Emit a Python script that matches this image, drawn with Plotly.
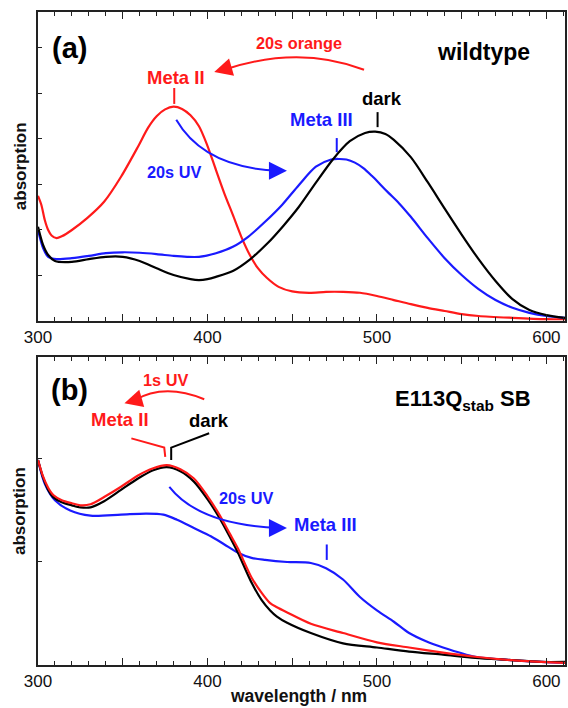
import plotly.graph_objects as go

# ---------------- data: panel (a) wildtype ----------------
wl_a_dark = [300, 303, 306, 310, 320, 330, 340, 350, 360, 370, 380, 390, 395, 400, 405, 415, 425, 435,
             445, 454, 464, 474, 484, 493, 499, 505, 510, 520, 530, 540, 550, 560, 570, 580, 590, 600, 611]
abs_a_dark = [0.207, 0.167, 0.145, 0.132, 0.130, 0.136, 0.141, 0.141, 0.132, 0.116, 0.101, 0.092, 0.090,
              0.092, 0.097, 0.110, 0.135, 0.169, 0.210, 0.251, 0.304, 0.355, 0.395, 0.413, 0.416, 0.411,
              0.398, 0.360, 0.305, 0.247, 0.190, 0.136, 0.088, 0.048, 0.024, 0.013, 0.007]

wl_a_meta3 = [300, 303, 306, 311, 320, 330, 340, 350, 360, 370, 380, 388, 395, 405, 415, 424, 434, 444,
              454, 464, 473, 478, 482, 487, 492, 497, 502, 507, 513, 520, 530, 540, 550, 560, 570, 580,
              590, 600, 611]
abs_a_meta3 = [0.200, 0.160, 0.141, 0.136, 0.138, 0.143, 0.149, 0.151, 0.150, 0.147, 0.143, 0.141, 0.141,
               0.149, 0.163, 0.185, 0.218, 0.255, 0.299, 0.339, 0.355, 0.356, 0.355, 0.348, 0.336, 0.319,
               0.300, 0.281, 0.259, 0.229, 0.182, 0.138, 0.101, 0.070, 0.046, 0.029, 0.018, 0.011, 0.007]

wl_a_meta2 = [300, 302, 304, 306, 308, 311, 314, 320, 329, 339, 349, 359, 365, 370, 375, 380, 385, 390,
              395, 400, 405, 410, 415, 420, 425, 430, 435, 442, 450, 460, 470, 480, 490, 500, 510, 520,
              530, 540, 550, 560, 580, 600, 611]
abs_a_meta2 = [0.275, 0.255, 0.222, 0.200, 0.188, 0.182, 0.186, 0.200, 0.226, 0.262, 0.317, 0.383, 0.425,
               0.450, 0.465, 0.471, 0.466, 0.452, 0.428, 0.385, 0.332, 0.280, 0.233, 0.185, 0.145, 0.115,
               0.095, 0.075, 0.065, 0.062, 0.064, 0.064, 0.062, 0.055, 0.046, 0.037, 0.029, 0.022, 0.015,
               0.011, 0.007, 0.004, 0.004]

# ---------------- data: panel (b) E113Q_stab SB ----------------
wl_b_dark = [300, 303, 306, 309, 314, 320, 325, 331, 339, 349, 359, 368, 376, 384, 392, 400, 407, 413,
             418, 426, 432, 437, 441, 447, 461, 480, 500, 519, 539, 558, 577, 597, 611]
abs_b_dark = [0.199, 0.182, 0.170, 0.163, 0.158, 0.155, 0.153, 0.153, 0.159, 0.170, 0.181, 0.189, 0.192,
              0.188, 0.178, 0.161, 0.143, 0.125, 0.109, 0.080, 0.063, 0.053, 0.047, 0.041, 0.031, 0.021,
              0.017, 0.013, 0.010, 0.007, 0.005, 0.003, 0.003]

wl_b_meta2 = [300, 303, 306, 309, 314, 320, 325, 331, 339, 349, 359, 368, 376, 384, 392, 400, 407, 413,
              418, 426, 432, 437, 441, 447, 461, 480, 500, 519, 539, 558, 577, 597, 611]
abs_b_meta2 = [0.199, 0.183, 0.172, 0.165, 0.160, 0.157, 0.155, 0.156, 0.163, 0.173, 0.184, 0.191, 0.194,
               0.190, 0.181, 0.164, 0.146, 0.128, 0.113, 0.085, 0.070, 0.060, 0.056, 0.051, 0.040, 0.031,
               0.022, 0.017, 0.012, 0.008, 0.005, 0.003, 0.002]

wl_b_meta3 = [300, 304, 310, 319, 331, 349, 364, 374, 382, 392, 402, 410, 418, 426, 434, 447, 461, 470,
              480, 490, 500, 510, 519, 529, 539, 558, 577, 597, 611]
abs_b_meta3 = [0.199, 0.176, 0.160, 0.150, 0.145, 0.146, 0.147, 0.146, 0.141, 0.133, 0.125, 0.117, 0.109,
               0.104, 0.102, 0.100, 0.099, 0.094, 0.083, 0.066, 0.053, 0.042, 0.031, 0.023, 0.017, 0.008,
               0.005, 0.003, 0.002]

x_tickvals = [300, 350, 400, 450, 500, 550, 600]
x_ticktext = ["300", "", "400", "", "500", "", "600"]
y_ticks_a = [0.1, 0.2, 0.3, 0.4, 0.5, 0.6]
y_ticks_b = [0.1, 0.2]

RED = "#ff1a1a"
BLUE = "#1a1aff"
BLACK = "#000000"
FONT = "Liberation Sans, Arial, sans-serif"

fig = go.Figure()


def add_line(x, y, color, xa, ya):
    fig.add_trace(go.Scatter(x=x, y=y, mode="lines", line=dict(color=color, width=2.2, shape="spline",
                                                               smoothing=0.8),
                             xaxis=xa, yaxis=ya, showlegend=False, hoverinfo="skip"))


add_line(wl_a_meta2, abs_a_meta2, RED, "x", "y")
add_line(wl_a_meta3, abs_a_meta3, BLUE, "x", "y")
add_line(wl_a_dark, abs_a_dark, BLACK, "x", "y")

add_line(wl_b_meta3, abs_b_meta3, BLUE, "x2", "y2")
add_line(wl_b_dark, abs_b_dark, BLACK, "x2", "y2")
add_line(wl_b_meta2, abs_b_meta2, RED, "x2", "y2")

axis_common = dict(showgrid=False, zeroline=False, showline=True, linecolor="#222", linewidth=1.5,
                   mirror="allticks")
xaxis_cfg = dict(axis_common, range=[300, 611], tickmode="array", tickvals=x_tickvals, ticktext=x_ticktext,
                 ticks="inside", ticklen=7, tickwidth=1.2, tickcolor="#222",
                 minor=dict(dtick=10, ticks="inside", ticklen=4, tickwidth=1.2, tickcolor="#222"),
                 tickfont=dict(family=FONT, size=17, color="#111"))
fig.update_layout(
    width=568, height=708,
    margin=dict(l=38, r=1, t=12, b=43),
    paper_bgcolor="white", plot_bgcolor="white",
    xaxis=dict(xaxis_cfg, anchor="y"),
    yaxis=dict(showgrid=False, zeroline=False, showline=True, linecolor="#222", linewidth=1.5, mirror=True,
               range=[0, 0.679], domain=[0.5268, 1.0], tickvals=y_ticks_a, ticks="inside", ticklen=4,
               tickwidth=1.2, tickcolor="#222", showticklabels=False, anchor="x"),
    xaxis2=dict(xaxis_cfg, anchor="y2"),
    yaxis2=dict(showgrid=False, zeroline=False, showline=True, linecolor="#222", linewidth=1.5, mirror=True,
                range=[0, 0.299], domain=[0.0, 0.4717], tickvals=y_ticks_b, ticks="inside", ticklen=4,
                tickwidth=1.2, tickcolor="#222", showticklabels=False, anchor="x2"),
)

ann = []


def text(x, y, s, color, size, xref="x", yref="y"):
    ann.append(dict(x=x, y=y, xref=xref, yref=yref, text="<b>%s</b>" % s, showarrow=False,
                    font=dict(family=FONT, size=size, color=color), xanchor="center", yanchor="middle"))


def head(x, y, ax, ay, color, xref="x", yref="y"):
    ann.append(dict(x=x, y=y, xref=xref, yref=yref, text="", showarrow=True, ax=ax, ay=ay,
                    arrowhead=2, arrowsize=1.8, arrowwidth=2, arrowcolor=color))


# panel (a)
text(318.7, 0.600, "(a)", BLACK, 29)
text(562.8, 0.591, "wildtype", BLACK, 23)
text(453.9, 0.611, "20s orange", RED, 16.3)
text(381.6, 0.536, "Meta II", RED, 18.5)
text(467.5, 0.442, "Meta III", BLUE, 18.5)
text(502.8, 0.490, "dark", BLACK, 18.5)
text(380.4, 0.327, "20s UV", BLUE, 16.3)
head(404.0, 0.547, 14, -4, RED)
head(446.9, 0.330, -14, 0, BLUE)

# panel (b)
text(318.7, 0.267, "(b)", BLACK, 29, "x2", "y2")
text(551.0, 0.257, "E113Q<sub>stab</sub> SB", BLACK, 22, "x2", "y2")
text(375.5, 0.277, "1s UV", RED, 16.3, "x2", "y2")
text(348.1, 0.238, "Meta II", RED, 18.5, "x2", "y2")
text(401.0, 0.237, "dark", BLACK, 18.5, "x2", "y2")
text(422.8, 0.162, "20s UV", BLUE, 16.3, "x2", "y2")
text(469.8, 0.136, "Meta III", BLUE, 18.5, "x2", "y2")
head(351.0, 0.254, 14, -4, RED, "x2", "y2")
head(446.9, 0.133, -14, 0, BLUE, "x2", "y2")

# axis titles
for yc in (0.764, 0.236):
    ann.append(dict(x=-0.034, y=yc, xref="paper", yref="paper", text="<b>absorption</b>", showarrow=False,
                    textangle=-90, font=dict(family=FONT, size=17, color="#111"),
                    xanchor="center", yanchor="middle"))
ann.append(dict(x=0.495, y=-0.0655, xref="paper", yref="paper", text="<b>wavelength / nm</b>",
                showarrow=False, font=dict(family=FONT, size=17.5, color="#111"),
                xanchor="center", yanchor="bottom"))
fig.update_layout(annotations=ann)

shapes = []


def seg(path, color, xref="x", yref="y", w=2):
    shapes.append(dict(type="path", path=path, xref=xref, yref=yref, line=dict(color=color, width=w)))


# curved arrows
seg("M 492.4,0.552 Q 453.9,0.607 409.8,0.552", RED)
seg("M 381.6,0.442 Q 398.1,0.336 442.2,0.330", BLUE)
seg("M 398.1,0.258 Q 374.5,0.274 356.9,0.257", RED, "x2", "y2")
seg("M 377.5,0.173 Q 395.1,0.136 442.2,0.133", BLUE, "x2", "y2")

# peak markers (a)
seg("M 380.4,0.512 L 380.4,0.477", RED)
seg("M 476.3,0.402 L 476.3,0.371", BLUE)
seg("M 500.4,0.459 L 500.4,0.426", BLACK)
# peak markers (b)
seg("M 355.1,0.220 L 374.5,0.211 L 375.1,0.202", RED, "x2", "y2")
seg("M 401.0,0.225 L 378.6,0.211 L 378.6,0.199", BLACK, "x2", "y2")
seg("M 470.4,0.117 L 470.4,0.102", BLUE, "x2", "y2")

fig.update_layout(shapes=shapes)

fig.write_html("out.html")
